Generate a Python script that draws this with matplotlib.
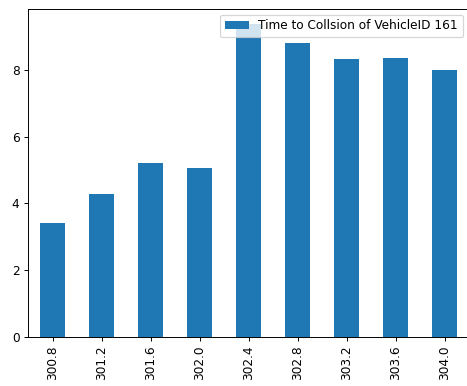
import matplotlib
matplotlib.use("Agg")
import matplotlib.pyplot as plt
import pandas as pd

times = ["300.8", "301.2", "301.6", "302.0", "302.4", "302.8", "303.2", "303.6", "304.0"]
ttc = [3.42, 4.28, 5.21, 5.07, 9.37, 8.81, 8.32, 8.37, 8.00]

df = pd.DataFrame({"Time to Collsion of VehicleID 161": ttc}, index=times)

# screenshot was scaled down, so draw at a lower dpi
dpi = 87
fig = plt.figure(figsize=(467 / dpi, 386 / dpi), dpi=dpi)
ax = fig.add_axes([28 / 467, 49 / 386, 441 / 467, 328.5 / 386])
df.plot.bar(ax=ax, color="#1f77b4")
ax.legend(loc="upper right")

fig.savefig("out.png", dpi=dpi)
